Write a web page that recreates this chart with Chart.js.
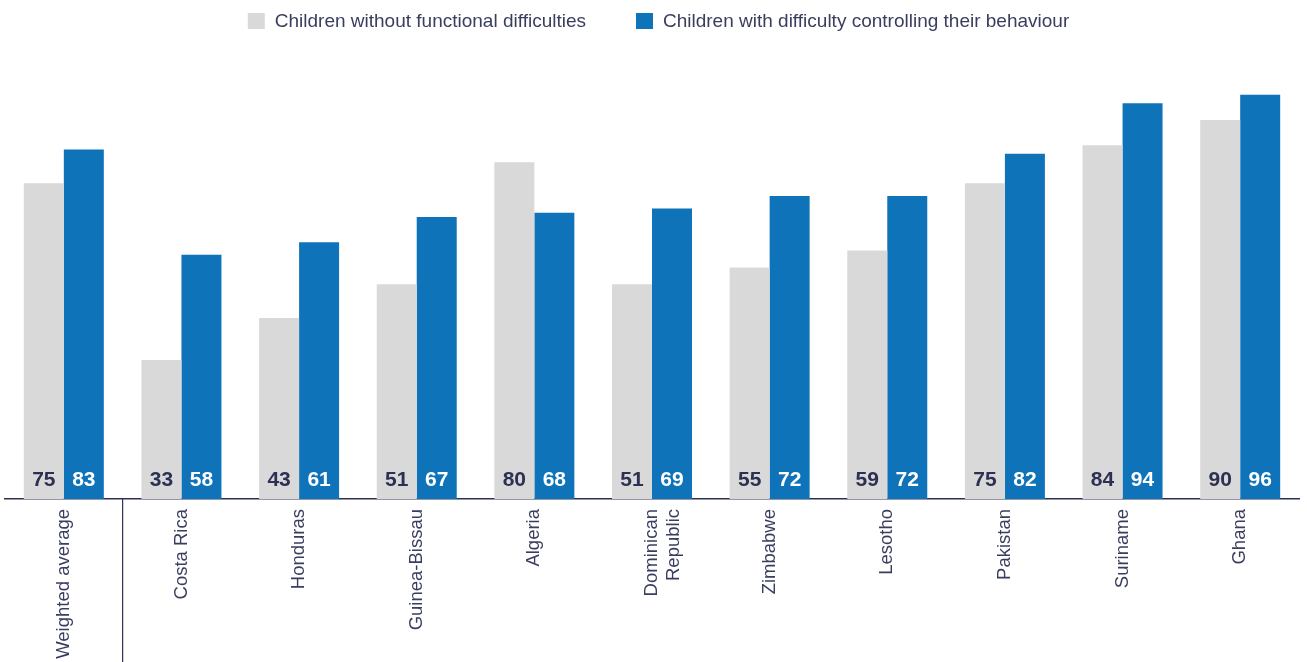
<!DOCTYPE html>
<html>
<head>
<meta charset="utf-8">
<script src="https://cdn.jsdelivr.net/npm/chart.js@4/dist/chart.umd.min.js"></script>
<style>
    html, body { margin: 0; padding: 0; background: #ffffff; }
    #wrap { width: 1307px; height: 662px; position: relative; }
</style>
</head>
<body>
<div id="wrap"><canvas id="behaviour-chart"></canvas></div>
<script>
    // Chart values
    const categories = ['Weighted average', 'Costa Rica', 'Honduras', 'Guinea-Bissau', 'Algeria',
        ['Dominican', 'Republic'], 'Zimbabwe', 'Lesotho', 'Pakistan', 'Suriname', 'Ghana'];
    const withoutDifficulties = [75, 33, 43, 51, 80, 51, 55, 59, 75, 84, 90];
    const withBehaviourDifficulty = [83, 58, 61, 67, 68, 69, 72, 72, 82, 94, 96];
    const seriesNames = ['Children without functional difficulties', 'Children with difficulty controlling their behaviour'];
    const seriesColors = ['#d9d9d9', '#0f73ba'];

    const navy = '#2c3052';
    const textColor = '#3a3e5e';
    const fontFamily = '"Liberation Sans", Arial, Helvetica, sans-serif';

    // Legend drawn by hand so it can sit close to the top edge
    const topLegend = {
        id: 'topLegend',
        afterDraw(chart) {
            const ctx = chart.ctx;
            ctx.save();
            ctx.font = '19px ' + fontFamily;
            ctx.textBaseline = 'middle';
            const boxW = 17, boxH = 16, textGap = 10, itemGap = 50;
            const widths = seriesNames.map(n => ctx.measureText(n).width);
            const total = widths.reduce((a, w) => a + boxW + textGap + w, 0) + itemGap;
            let x = chart.width / 2 + 5 - total / 2;
            seriesNames.forEach((name, i) => {
                ctx.fillStyle = seriesColors[i];
                ctx.fillRect(x, 13, boxW, boxH);
                ctx.fillStyle = textColor;
                ctx.fillText(name, x + boxW + textGap, 21.5);
                x += boxW + textGap + widths[i] + itemGap;
            });
            ctx.restore();
        }
    };

    // Draws the numbers inside the bars and the line after the weighted average
    const barExtras = {
        id: 'barExtras',
        afterDatasetsDraw(chart) {
            const ctx = chart.ctx;
            const bottom = chart.chartArea.bottom;
            ctx.save();
            ctx.font = 'bold 21px ' + fontFamily;
            ctx.textAlign = 'center';
            ctx.textBaseline = 'middle';
            chart.data.datasets.forEach((ds, i) => {
                const meta = chart.getDatasetMeta(i);
                ctx.fillStyle = i === 0 ? navy : '#ffffff';
                meta.data.forEach((bar, j) => {
                    ctx.fillText(ds.data[j], bar.x, bottom - 19);
                });
            });

            const xScale = chart.scales.x;
            const sepX = (xScale.getPixelForTick(0) + xScale.getPixelForTick(1)) / 2;
            ctx.strokeStyle = navy;
            ctx.lineWidth = 1.2;
            ctx.beginPath();
            ctx.moveTo(sepX, bottom);
            ctx.lineTo(sepX, chart.height);
            ctx.stroke();
            ctx.restore();
        }
    };

    const ctx = document.getElementById('behaviour-chart').getContext('2d');
    new Chart(ctx, {
        type: 'bar',
        data: {
            labels: categories,
            datasets: [{
                label: seriesNames[0],
                data: withoutDifficulties,
                backgroundColor: seriesColors[0],
                categoryPercentage: 0.68,
                barPercentage: 1.0
            }, {
                label: seriesNames[1],
                data: withBehaviourDifficulty,
                backgroundColor: seriesColors[1],
                categoryPercentage: 0.68,
                barPercentage: 1.0
            }]
        },
        options: {
            responsive: true,
            maintainAspectRatio: false,
            animation: false,
            layout: {
                padding: { left: 5, right: 8, top: 78, bottom: 0 }
            },
            plugins: {
                legend: { display: false },
                tooltip: { enabled: false }
            },
            scales: {
                x: {
                    // labels are a bit shorter than Chart.js measures them
                    afterFit: function (scale) {
                        scale.height = 163;
                    },
                    grid: { display: false, drawTicks: false },
                    border: { display: true, color: navy, width: 1.5 },
                    ticks: {
                        autoSkip: false,
                        minRotation: 90,
                        maxRotation: 90,
                        padding: 10,
                        color: textColor,
                        font: { size: 18.5, family: fontFamily }
                    }
                },
                y: {
                    display: false,
                    min: 0,
                    max: 100
                }
            }
        },
        plugins: [barExtras, topLegend]
    });
</script>
</body>
</html>
